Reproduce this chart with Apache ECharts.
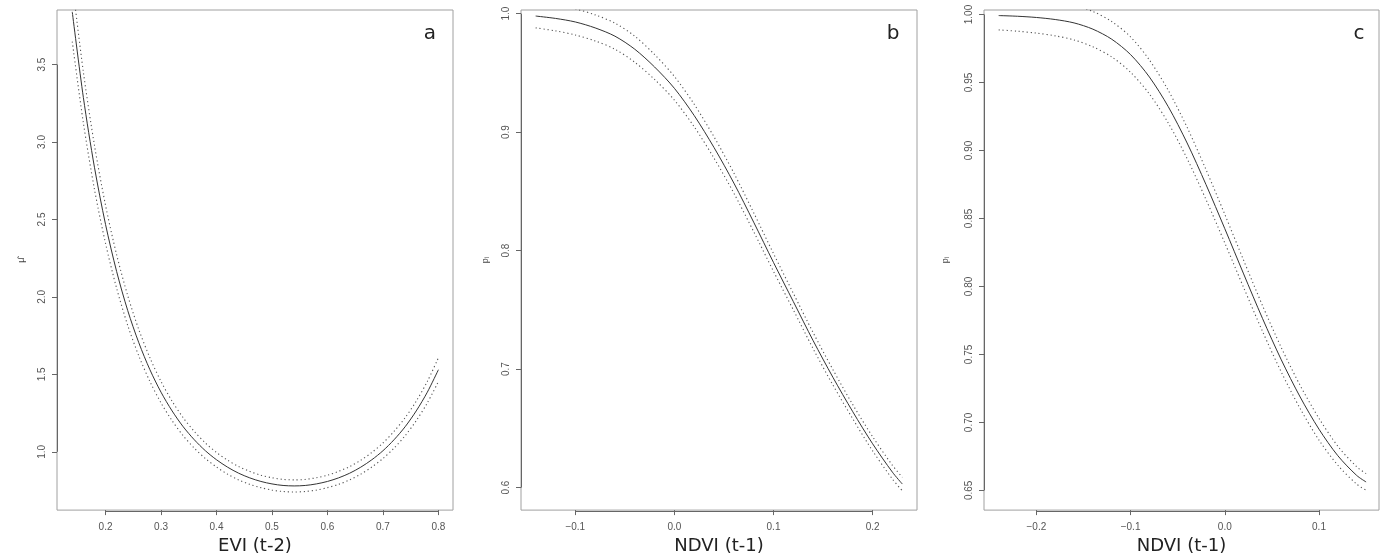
<!DOCTYPE html>
<html>
<head>
<meta charset="utf-8">
<script src="https://cdn.jsdelivr.net/npm/echarts@6/dist/echarts.min.js"></script>
<style>
  html, body { margin: 0; padding: 0; background: #fff; }
  #chart { width: 1386px; height: 560px; }
</style>
</head>
<body>
<div id="chart"></div>
<script>
// panel a: EVI (t-2) vs mu-hat
var xA = [0.14, 0.16, 0.18, 0.20, 0.22, 0.24, 0.26, 0.28, 0.30, 0.32, 0.34, 0.36, 0.38, 0.40, 0.42, 0.44, 0.46,
          0.48, 0.50, 0.52, 0.54, 0.56, 0.58, 0.60, 0.62, 0.64, 0.66, 0.68, 0.70, 0.72, 0.74, 0.76, 0.78, 0.80];
var fitA = [3.840, 3.288, 2.837, 2.468, 2.164, 1.912, 1.704, 1.530, 1.385, 1.264, 1.162, 1.078, 1.007, 0.949, 0.901, 0.862, 0.832,
            0.809, 0.793, 0.783, 0.780, 0.783, 0.793, 0.809, 0.832, 0.862, 0.901, 0.949, 1.007, 1.078, 1.162, 1.264, 1.385, 1.530];
var upA = [4.032, 3.452, 2.979, 2.591, 2.272, 2.008, 1.789, 1.607, 1.454, 1.327, 1.220, 1.132, 1.057, 0.996, 0.946, 0.905, 0.874,
           0.849, 0.833, 0.822, 0.819, 0.822, 0.833, 0.849, 0.874, 0.905, 0.946, 0.996, 1.057, 1.132, 1.220, 1.327, 1.454, 1.607];
var loA = [3.648, 3.124, 2.695, 2.345, 2.056, 1.816, 1.619, 1.454, 1.316, 1.201, 1.104, 1.024, 0.957, 0.902, 0.856, 0.819, 0.790,
           0.769, 0.753, 0.744, 0.741, 0.744, 0.753, 0.769, 0.790, 0.819, 0.856, 0.902, 0.957, 1.024, 1.104, 1.201, 1.316, 1.454];

// panel b: NDVI (t-1) vs p_i
var xB = [-0.14, -0.12, -0.10, -0.08, -0.06, -0.04, -0.02, 0.00, 0.02, 0.04, 0.06, 0.08, 0.10, 0.12, 0.14, 0.16, 0.18, 0.20, 0.22, 0.23];
var fitB = [0.998, 0.996, 0.993, 0.988, 0.981, 0.970, 0.955, 0.937, 0.914, 0.887, 0.857, 0.824, 0.790, 0.757, 0.724, 0.693, 0.664, 0.637, 0.613, 0.603];
var upB = [1.008, 1.0065, 1.004, 0.999, 0.992, 0.981, 0.9655, 0.947, 0.9235, 0.896, 0.8655, 0.832, 0.7975, 0.764, 0.7308, 0.6995, 0.670, 0.643, 0.6188, 0.6087];
var loB = [0.988, 0.9855, 0.982, 0.977, 0.970, 0.959, 0.9445, 0.927, 0.9045, 0.878, 0.8485, 0.816, 0.7825, 0.750, 0.7172, 0.6865, 0.658, 0.631, 0.6072, 0.5973];

// panel c: NDVI (t-1) vs p_i
var xC = [-0.24, -0.22, -0.20, -0.18, -0.16, -0.14, -0.12, -0.10, -0.08, -0.06, -0.04, -0.02, 0.00, 0.02, 0.04, 0.06, 0.08, 0.10, 0.12, 0.14, 0.15];
var fitC = [0.9992, 0.9987, 0.9978, 0.9963, 0.9938, 0.9892, 0.9818, 0.9705, 0.9540, 0.9322, 0.9055, 0.8750, 0.8425, 0.8092, 0.7765, 0.7460, 0.7187, 0.6950, 0.6755, 0.6610, 0.6562];
var upC = [1.0097, 1.0097, 1.0093, 1.0083, 1.0063, 1.0022, 0.9948, 0.9835, 0.9665, 0.9442, 0.9170, 0.8860, 0.8530, 0.8192, 0.7860, 0.7550, 0.7272, 0.7030, 0.6825, 0.6674, 0.6623];
var loC = [0.9887, 0.9877, 0.9863, 0.9843, 0.9813, 0.9762, 0.9688, 0.9575, 0.9415, 0.9202, 0.8940, 0.8640, 0.8320, 0.7992, 0.7670, 0.7370, 0.7102, 0.6870, 0.6685, 0.6546, 0.6501];

// tick labels
var ticksAX = [0.2, 0.3, 0.4, 0.5, 0.6, 0.7, 0.8];
var ticksAY = [1.0, 1.5, 2.0, 2.5, 3.0, 3.5];
var ticksBX = [-0.1, 0.0, 0.1, 0.2];
var ticksBY = [0.6, 0.7, 0.8, 0.9, 1.0];
var ticksCX = [-0.2, -0.1, 0.0, 0.1];
var ticksCY = [0.65, 0.70, 0.75, 0.80, 0.85, 0.90, 0.95, 1.00];

var xTitles = ['EVI (t-2)', 'NDVI (t-1)', 'NDVI (t-1)'];
var yTitles = ['μ̂', 'pᵢ', 'pᵢ'];
var letters = ['a', 'b', 'c'];

var chartDom = document.getElementById('chart');
var myChart = echarts.init(chartDom);

var tickFont = 'Liberation Sans, Arial, sans-serif';
var titleFont = 'DejaVu Sans, Verdana, sans-serif';

var grids = [
    { left: 57, top: 10, width: 396, height: 501 },
    { left: 521, top: 10, width: 396, height: 501 },
    { left: 984, top: 10, width: 395, height: 501 }
];
var ranges = [
    { x: [0.1125, 0.8263], y: [0.624, 3.852] },
    { x: [-0.1548, 0.2448], y: [0.581, 1.0031] },
    { x: [-0.2556, 0.1637], y: [0.6355, 1.0033] }
];
var xTicks = [ticksAX, ticksBX, ticksCX];
var yTicks = [ticksAY, ticksBY, ticksCY];
var yDigits = [1, 1, 2];
var yNameGap = [31, 31, 34];

function pairs(xs, ys) {
    return xs.map((x, i) => [x, ys[i]]);
}

var xAxes = [], yAxes = [], series = [];
grids.forEach((g, i) => {
    g.show = true;
    g.borderColor = '#a0a0a0';
    g.borderWidth = 1;
    g.containLabel = false;

    xAxes.push({
        type: 'value', gridIndex: i,
        min: ranges[i].x[0], max: ranges[i].x[1],
        name: xTitles[i], nameLocation: 'middle', nameGap: 26,
        nameTextStyle: { fontFamily: titleFont, fontSize: 18, color: '#222' },
        axisLine: { show: false, onZero: false },
        axisTick: { show: true, length: 5, customValues: xTicks[i], lineStyle: { color: '#666' } },
        axisLabel: {
            customValues: xTicks[i], margin: 12,
            fontFamily: tickFont, fontSize: 10, color: '#555',
            formatter: v => v.toFixed(1).replace('-', '\u2212')
        },
        splitLine: { show: false }
    });
    yAxes.push({
        type: 'value', gridIndex: i,
        min: ranges[i].y[0], max: ranges[i].y[1],
        name: yTitles[i], nameLocation: 'middle', nameGap: yNameGap[i], nameRotate: 90,
        nameTextStyle: { fontFamily: tickFont, fontSize: 9, color: '#444' },
        axisLine: { show: false, onZero: false },
        axisTick: { show: true, length: 5, customValues: yTicks[i], lineStyle: { color: '#666' } },
        axisLabel: {
            customValues: yTicks[i], margin: 10, rotate: 90,
            fontFamily: tickFont, fontSize: 10, color: '#555',
            formatter: v => v.toFixed(yDigits[i])
        },
        splitLine: { show: false }
    });
});

var panels = [
    [xA, fitA, upA, loA],
    [xB, fitB, upB, loB],
    [xC, fitC, upC, loC]
];
panels.forEach((p, i) => {
    series.push({
        type: 'line', xAxisIndex: i, yAxisIndex: i, data: pairs(p[0], p[1]),
        showSymbol: false, smooth: 0.3, silent: true,
        lineStyle: { color: '#333', width: 1 }
    });
    [p[2], p[3]].forEach(band => {
        series.push({
            type: 'line', xAxisIndex: i, yAxisIndex: i, data: pairs(p[0], band),
            showSymbol: false, smooth: 0.3, silent: true,
            lineStyle: { color: '#555', width: 1.1, type: [1.2, 2.8] }
        });
    });
});

var letterX = [430, 893, 1359];
var graphics = letters.map((t, i) => ({
    type: 'text', x: letterX[i], y: 34,
    style: { text: t, fontFamily: titleFont, fontSize: 20, fill: '#222', textAlign: 'center', textVerticalAlign: 'middle' }
}));

var option = {
    animation: false,
    backgroundColor: '#fff',
    grid: grids,
    xAxis: xAxes,
    yAxis: yAxes,
    series: series,
    graphic: graphics
};

option && myChart.setOption(option);

// darker axis segments from first to last tick, like R's axis()
var segs = [];
grids.forEach((g, i) => {
    var xt = xTicks[i], yt = yTicks[i];
    var bottom = g.top + g.height, left = g.left;
    var x0 = myChart.convertToPixel({ xAxisIndex: i }, xt[0]);
    var x1 = myChart.convertToPixel({ xAxisIndex: i }, xt[xt.length - 1]);
    var y0 = myChart.convertToPixel({ yAxisIndex: i }, yt[0]);
    var y1 = myChart.convertToPixel({ yAxisIndex: i }, yt[yt.length - 1]);
    segs.push({ type: 'line', shape: { x1: x0, y1: bottom + 0.5, x2: x1, y2: bottom + 0.5 }, style: { stroke: '#666', lineWidth: 1 } });
    segs.push({ type: 'line', shape: { x1: left + 0.5, y1: y0, x2: left + 0.5, y2: y1 }, style: { stroke: '#666', lineWidth: 1 } });
});
myChart.setOption({ graphic: graphics.concat(segs) });

window.addEventListener('resize', () => {
    myChart.resize();
});
</script>
</body>
</html>
